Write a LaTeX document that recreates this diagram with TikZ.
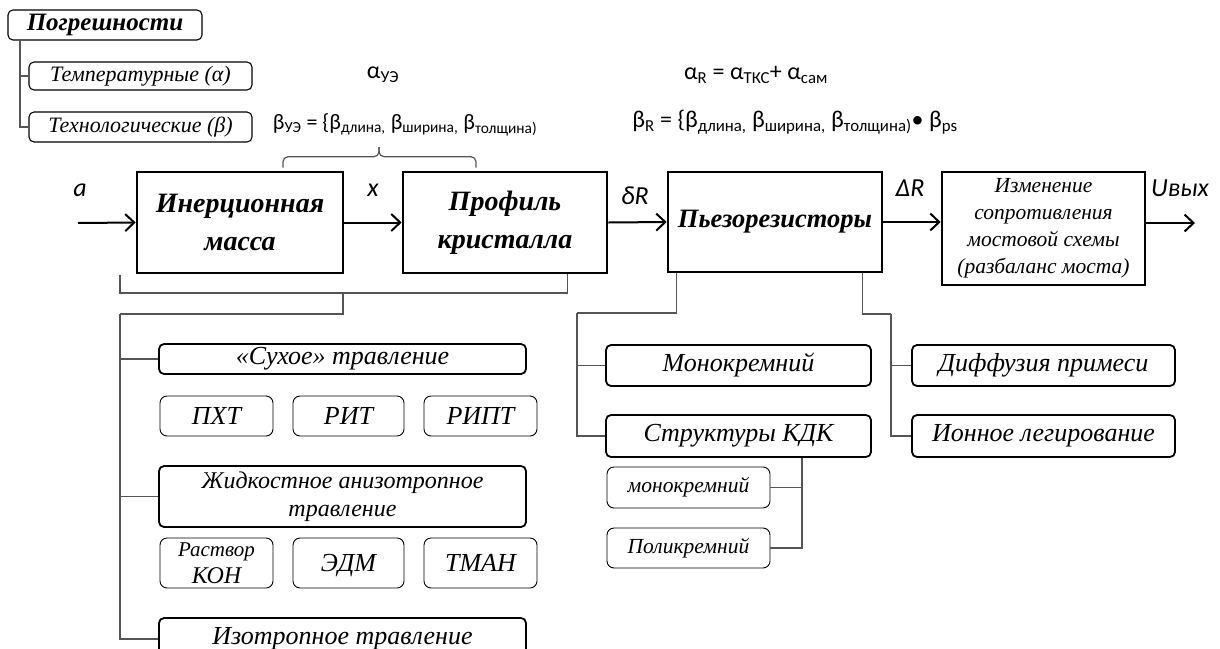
\documentclass[tikz,border=0pt]{standalone}
\usepackage{fontspec}
\setmainfont{Liberation Serif}
\newfontfamily\calfont{Carlito}
\usetikzlibrary{arrows.meta,positioning}
\definecolor{linegray}{RGB}{85,85,85}
\newcommand{\fsz}[2]{\fontsize{#1pt}{#2pt}\selectfont}

\begin{document}
\begin{tikzpicture}[x=1pt,y=-1pt,
  wh/.style 2 args={minimum width=#1pt,minimum height=#2pt},
  blk/.style={draw,line width=2.6pt,align=center,inner sep=1pt,font=\fsz{28}{38}\bfseries\itshape},
  grp/.style={draw,rounded corners=5pt,line width=1.8pt,align=center,inner sep=1pt,font=\fsz{26}{28}\itshape},
  sub/.style={draw,rounded corners=7pt,line width=0.9pt,align=center,inner sep=1pt,font=\fsz{26}{24}\itshape},
  leg/.style={draw,rounded corners=5pt,line width=1.1pt,inner sep=1pt,font=\fsz{22}{22}\itshape},
  frm/.style={inner sep=1pt,font=\calfont\fsz{24}{26}},
  sig/.style={inner sep=1pt,font=\calfont\itshape\fsz{26}{28}},
  arr/.style={-{Straight Barb[length=9pt,width=17pt]},line width=2pt},
  tree/.style={linegray,line width=1.2pt}]
\useasboundingbox (0,0) rectangle (1220,648);
\node[leg,wh={194}{30},font=\fsz{25}{26}\bfseries\itshape] (err) at (105,25) {Погрешности};
\node[leg,wh={223}{28}] (temp) at (140.5,76) {Температурные (α)};
\node[leg,wh={223}{30}] (tech) at (140.5,127) {Технологические (β)};
\draw[tree] ([xshift=-85pt]err.south) |- (temp.west);
\draw[tree] ([xshift=-85pt]err.south) |- (tech.west);
\node[frm] (au) at (383,75) {α\textsubscript{УЭ}};
\node[frm,font=\calfont\fsz{22}{24}] (bu) at (405,125) {β\textsubscript{УЭ} = \{β\textsubscript{длина,} β\textsubscript{ширина,} β\textsubscript{толщина)}};
\node[frm] (ar) at (756,75) {α\textsubscript{R} = α\textsubscript{ТКС}+ α\textsubscript{сам}};
\node[frm] (br) at (795,122) {β\textsubscript{R} = \{β\textsubscript{длина,} β\textsubscript{ширина,} β\textsubscript{толщина)}• β\textsubscript{ps}};
\node[blk,wh={206}{101}] (mass) at (240,222.5) {Инерционная\\масса};
\node[blk,wh={204}{101}] (prof) at (505,222.5) {Профиль\\кристалла};
\node[blk,wh={214}{100},font=\fsz{26.5}{30}\bfseries\itshape] (piezo) at (775,222) {Пьезорезисторы};
\node[blk,wh={203}{113},font=\fsz{21.5}{27}\itshape] (bridge) at (1043.5,228.5) {Изменение\\сопротивления\\мостовой схемы\\(разбаланс моста)};
\coordinate (in) at (78,223);
\coordinate (out) at (1195,223);
\draw[arr] (in) -- (mass.west);
\draw[arr] (mass.east) -- (prof.west);
\draw[arr] (prof.east) -- (piezo.west);
\draw[arr] (piezo.east) -- (piezo.east -| bridge.west);
\draw[arr] (bridge.east |- out) -- (out);
\node[sig] (la) at (80,190) {a};
\node[sig] (lx) at (373,190) {x};
\node[sig] (ldr) at (635,196) {δR};
\node[sig] (lDR) at (910,188) {ΔR};
\node[sig] (lu) at (1180,188) {Uвых};
\coordinate (bL) at ([xshift=43pt,yshift=3pt]mass.north);
\coordinate (bR) at ([xshift=-29pt,yshift=3pt]prof.north);
\coordinate (tip) at (379,147);
\draw[tree,rounded corners=5pt] (bL) -- ++(0,-11) -| (tip);
\draw[tree,rounded corners=5pt] (bR) -- ++(0,-11) -| (tip);
\node[grp,wh={367}{30}] (dry) at (342.5,359) {«Сухое» травление};
\node[sub,wh={113}{40}] (pht) at (216.5,416) {ПХТ};
\node[sub,wh={111}{40}] (rit) at (348.5,416) {РИТ};
\node[sub,wh={113}{40}] (ript) at (480.5,416) {РИПТ};
\node[grp,wh={367}{61},font=\fsz{24}{28}\itshape] (wet) at (342.5,496.5) {Жидкостное анизотропное\\травление};
\node[sub,wh={113}{50},font=\fsz{21}{24}\itshape] (koh) at (216.5,563) {Раствор\\[3pt]{\fsz{24}{24}КОН}};
\node[sub,wh={111}{50},text depth=0pt] (edm) at (348.5,563) {ЭДМ};
\node[sub,wh={113}{50}] (tmah) at (480.5,563) {ТМАН};
\node[grp,wh={367}{42}] (iso) at (342.5,639) {Изотропное травление};
\coordinate (brL) at (120,275);
\coordinate (brM) at (343,293);
\coordinate (trunkL) at (120,314);
\draw[tree] (brL) -- ++(0,18) -| ([xshift=-41pt]prof.south east);
\draw[tree] (brM) |- (trunkL);
\draw[tree] (trunkL) |- (dry.west);
\draw[tree] (trunkL) |- (wet.west);
\draw[tree] (trunkL) |- (iso.west);
\node[grp,wh={265}{41}] (mono) at (738.5,365.5) {Монокремний};
\node[grp,wh={265}{42}] (kdk) at (738.5,436) {Структуры КДК};
\node[sub,wh={163}{41},font=\fsz{21.5}{22}\itshape] (smono) at (688.5,487.5) {монокремний};
\node[sub,wh={163}{40},font=\fsz{21.5}{22}\itshape] (poly) at (688.5,548) {Поликремний};
\node[grp,wh={263}{41}] (diff) at (1043.5,365.5) {Диффузия примеси};
\node[grp,wh={263}{42}] (ion) at (1043.5,436) {Ионное легирование};
\coordinate (trunkM) at (577,313);
\coordinate (trunkR) at (891,314);
\coordinate (kdkS) at ([xshift=-70pt]kdk.south east);
\draw[tree] ([xshift=10pt]piezo.south west) |- (trunkM);
\draw[tree] (trunkM) |- (mono.west);
\draw[tree] (trunkM) |- (kdk.west);
\draw[tree] (kdkS) |- (poly.east);
\draw[tree] (kdkS |- smono.east) -- (smono.east);
\draw[tree] ([xshift=-21pt]piezo.south east) |- (trunkR);
\draw[tree] (trunkR) |- (diff.west);
\draw[tree] (trunkR) |- (ion.west);
\end{tikzpicture}
\end{document}
